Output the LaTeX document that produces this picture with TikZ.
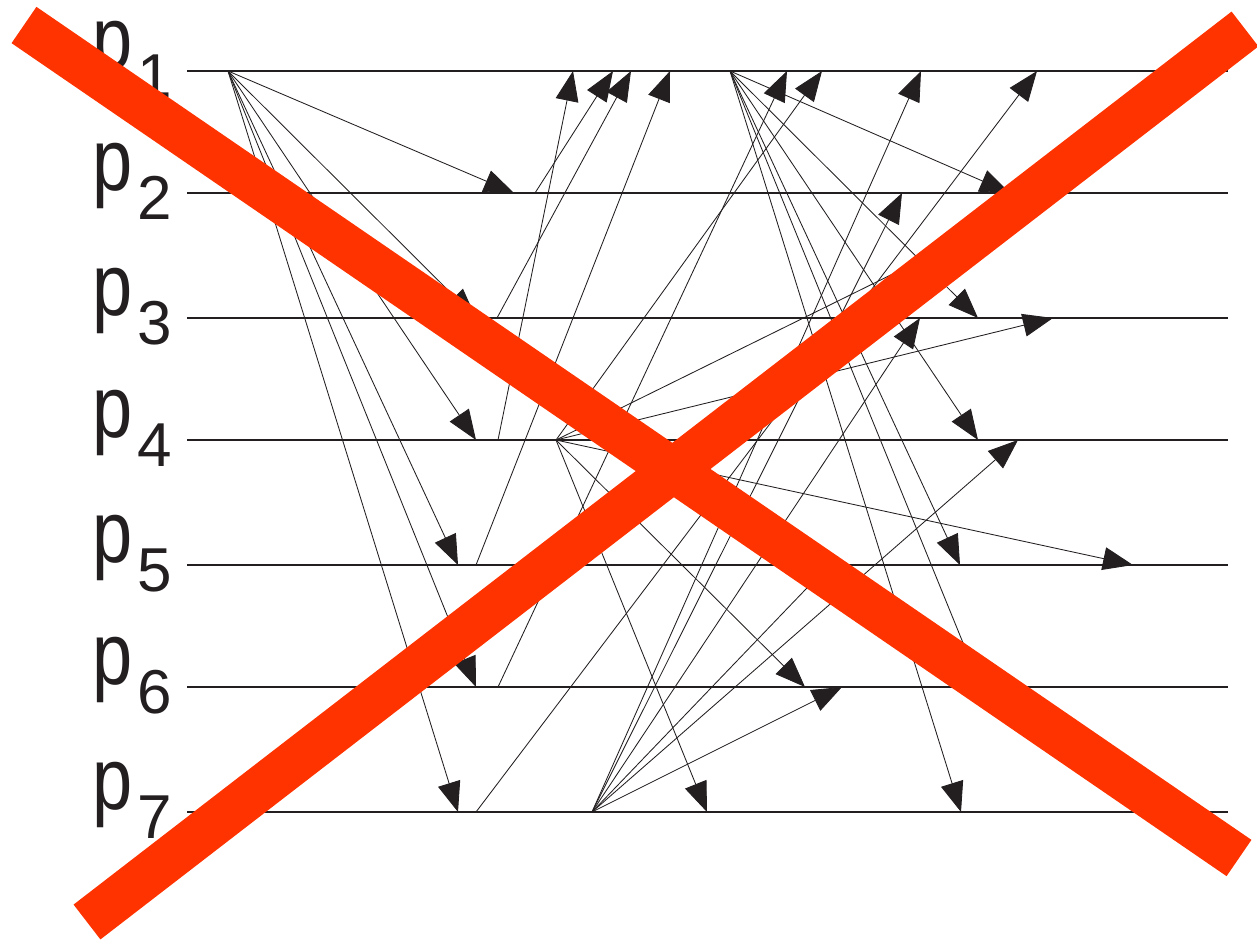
\documentclass[tikz,border=0pt]{standalone}
\usepackage{fontspec}
\setmainfont{Liberation Sans}
\newfontfamily\pfont[FakeStretch=0.82]{Liberation Sans}
\usetikzlibrary{arrows.meta}
\definecolor{ink}{RGB}{35,31,32}
\definecolor{xred}{RGB}{255,51,0}
\begin{document}
\begin{tikzpicture}[x=1pt,y=-1pt,
  proc/.style={draw=ink,line width=1.1pt},
  msg/.style={draw=ink,line width=0.85pt,-{Triangle[length=30pt,width=23pt]}},
  cross/.style={draw=xred,line width=44pt,line cap=butt},
  plabel/.style={anchor=base west,inner sep=0pt,text=ink,font=\pfont\fontsize{88}{100}\selectfont},
  sublabel/.style={anchor=base west,inner sep=0pt,text=ink,font=\fontsize{62}{70}\selectfont}]
\useasboundingbox (0,0) rectangle (1257,940);
% process lines and labels
\foreach \i/\y in {1/71,2/193,3/318,4/440,5/565,6/687,7/812}{
  \coordinate (L\i) at (187,\y);
  \coordinate (R\i) at (1228,\y);
  \draw[proc] (L\i) -- (R\i);
  \node[plabel] (pl\i) at (92,\y-3) {p};
  \node[sublabel] (ps\i) at (137,\y+26) {\i};
}
% events
\coordinate (a) at (228,71);   % first broadcast of p1
\coordinate (d) at (730,71);   % second broadcast of p1
\coordinate (b) at (556,440);  % broadcast of p4
\coordinate (c) at (592,812);  % broadcast of p7
% receipts of first broadcast and acknowledgements
\coordinate (r2) at (514,193); \coordinate (s2) at (535,193);
\coordinate (r3) at (476,318); \coordinate (s3) at (497,318);
\coordinate (r4) at (476,440); \coordinate (s4) at (498,440);
\coordinate (r5) at (458,565); \coordinate (s5) at (476,565);
\coordinate (r6) at (476,687); \coordinate (s6) at (498,687);
\coordinate (r7) at (458,812); \coordinate (s7) at (476,812);
\coordinate (k4) at (573,71);
\coordinate (k2) at (613,71);
\coordinate (k3) at (631,71);
\coordinate (k5) at (670,71);
\coordinate (k6) at (787,71);
\coordinate (k7) at (1037,71);
% receipts of p4 broadcast
\coordinate (b1) at (822,71);
\coordinate (b2) at (1057,193);
\coordinate (b3) at (1053,318);
\coordinate (b5) at (1133,565);
\coordinate (b6) at (805,687);
\coordinate (b7) at (707,812);
% receipts of p7 broadcast
\coordinate (c1) at (921,71);
\coordinate (c2) at (902,193);
\coordinate (c3) at (920,318);
\coordinate (c4) at (1018,440);
\coordinate (c5) at (829,565);
\coordinate (c6) at (842,687);
% receipts of second p1 broadcast
\coordinate (d2) at (1010,193);
\coordinate (d3) at (978,318);
\coordinate (d4) at (978,440);
\coordinate (d5) at (960,565);
\coordinate (d6) at (981,687);
\coordinate (d7) at (961,812);
% messages
\foreach \j in {2,...,7}{ \draw[msg] (a) -- (r\j); }
\foreach \j in {2,...,7}{ \draw[msg] (s\j) -- (k\j); }
\foreach \j in {1,2,3,5,6,7}{ \draw[msg] (b) -- (b\j); }
\foreach \j in {1,...,6}{ \draw[msg] (c) -- (c\j); }
\foreach \j in {2,...,7}{ \draw[msg] (d) -- (d\j); }
% red cross
\coordinate (x1a) at (24,25);  \coordinate (x1b) at (1239,858);
\coordinate (x2a) at (87,922); \coordinate (x2b) at (1245,29);
\draw[cross] (x1a) -- (x1b);
\draw[cross] (x2a) -- (x2b);
\end{tikzpicture}
\end{document}
